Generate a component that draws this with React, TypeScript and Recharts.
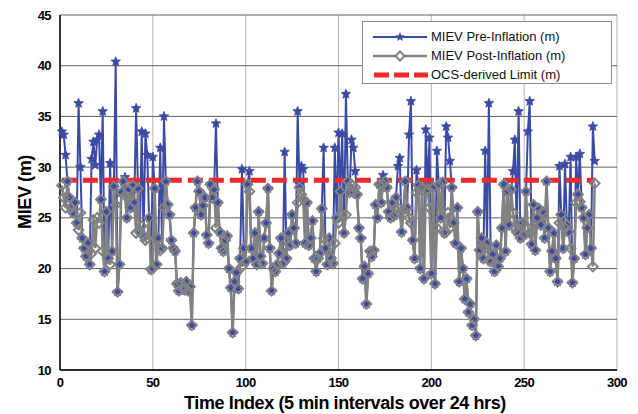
import { LineChart, Line, XAxis, YAxis, CartesianGrid } from "recharts";

// time index 1..288 (5 min steps over 24 h)
const timeIndex = Array.from({ length: 288 }, (_, i) => i + 1);

const preInflation = [
  33.5, 33.2, 31.2, 28.6, 27.0, 26.0, 25.5, 26.5, 24.5, 36.3,
  30.0, 23.0, 22.0, 21.2, 22.5, 20.4, 30.8, 32.5, 30.2, 32.7,
  33.2, 26.8, 35.5, 19.7, 25.6, 21.0, 30.4, 21.7, 28.1, 40.4,
  17.7, 20.4, 27.5, 28.6, 29.0, 25.0, 27.8, 26.0, 28.2, 26.5,
  35.8, 27.9, 23.6, 33.5, 23.2, 33.3, 31.2, 25.0, 19.9, 31.0,
  27.9, 20.4, 23.0, 31.9, 22.0, 35.0, 28.6, 26.3, 25.3, 22.8,
  22.0, 21.7, 18.5, 17.8, 18.6, 18.0, 17.9, 18.7, 17.8, 18.2,
  14.4, 23.5, 26.0, 28.6, 27.6, 25.3, 26.2, 27.0, 23.3, 22.5,
  28.3, 27.0, 27.8, 34.3, 26.5, 23.6, 22.0, 21.7, 22.8, 23.2,
  20.0, 18.1, 13.7, 18.7, 19.6, 18.0, 21.0, 29.8, 22.0, 20.7,
  28.3, 29.6, 22.0, 21.0, 23.5, 20.4, 25.6, 21.2, 20.5, 23.0,
  24.5, 27.9, 22.0, 17.8, 20.0, 19.7, 20.4, 21.5, 23.0, 20.5,
  31.5, 21.0, 23.5, 22.3, 25.3, 24.0, 22.5, 35.5, 28.3, 30.1,
  29.8, 22.5, 26.5, 22.3, 23.0, 24.7, 21.0, 19.7, 21.0, 21.5,
  25.9, 31.9, 22.0, 20.4, 23.0, 21.0, 20.5, 31.9, 25.0, 33.4,
  27.6, 33.3, 23.5, 37.2, 28.6, 27.5, 32.7, 31.9, 29.6, 27.3,
  24.0, 23.0, 19.0, 20.2, 16.5, 19.5, 21.7, 21.2, 21.8, 26.3,
  25.0, 28.3, 26.5, 29.2, 28.6, 28.0, 25.6, 25.0, 26.5, 25.2,
  27.0, 30.1, 30.9, 23.6, 25.8, 28.6, 26.0, 33.2, 36.5, 22.8,
  21.0, 29.7, 28.2, 20.0, 28.0, 19.0, 33.7, 27.8, 32.9, 19.5,
  28.0, 18.5, 31.6, 28.3, 25.0, 28.5, 23.5, 34.0, 32.9, 30.6,
  28.0, 24.5, 22.5, 26.0, 18.7, 22.0, 20.0, 17.0, 19.0, 15.7,
  16.5, 14.4, 15.0, 13.4, 25.6, 21.8, 23.0, 21.0, 31.6, 22.5,
  36.3, 20.7, 21.4, 19.7, 22.3, 20.2, 21.0, 24.0, 28.3, 21.7,
  27.6, 24.3, 27.8, 29.6, 32.7, 23.6, 35.5, 23.0, 24.5, 23.3,
  27.6, 33.5, 36.5, 22.4, 26.3, 21.8, 25.0, 25.9, 24.3, 25.6,
  23.0, 28.6, 24.0, 19.7, 21.7, 23.5, 21.0, 18.7, 30.1, 25.3,
  22.0, 30.3, 24.3, 23.6, 31.0, 18.6, 21.0, 31.0, 27.3, 31.3,
  26.0, 25.0, 21.4, 24.0, 25.3, 22.0, 34.0, 30.6,
];

const postInflation = [
  28.2, 27.0, 26.0, 28.6, 27.0, 26.0, 25.5, 26.5, 24.5, 23.8,
  25.5, 23.0, 22.0, 21.2, 22.5, 20.4, 21.5, 24.8, 22.0, 25.0,
  24.5, 26.8, 21.7, 19.7, 25.6, 21.0, 20.4, 21.7, 28.1, 26.3,
  17.7, 20.4, 27.5, 28.6, 27.2, 25.0, 27.8, 26.0, 28.2, 26.5,
  23.5, 27.9, 23.6, 24.2, 23.2, 22.8, 23.0, 25.0, 19.9, 20.0,
  27.9, 20.4, 23.0, 21.8, 22.0, 26.0, 28.6, 26.3, 25.3, 22.8,
  22.0, 21.7, 18.5, 17.8, 18.6, 18.0, 17.9, 18.7, 17.8, 18.2,
  14.4, 23.5, 26.0, 28.6, 27.6, 25.3, 26.2, 27.0, 23.3, 22.5,
  28.3, 27.0, 27.8, 24.0, 26.5, 23.6, 22.0, 21.7, 22.8, 23.2,
  20.0, 18.1, 13.7, 18.7, 19.6, 18.0, 21.0, 20.2, 22.0, 20.7,
  28.3, 27.6, 22.0, 21.0, 23.5, 20.4, 25.6, 21.2, 20.5, 23.0,
  24.5, 27.9, 22.0, 17.8, 20.0, 19.7, 20.4, 21.5, 23.0, 20.5,
  22.0, 21.0, 23.5, 22.3, 25.3, 24.0, 22.5, 26.5, 28.0, 27.3,
  26.8, 22.5, 26.5, 22.3, 23.0, 24.7, 21.0, 19.7, 21.0, 21.5,
  25.9, 23.0, 22.0, 20.4, 23.0, 21.0, 20.5, 22.5, 25.0, 24.5,
  27.6, 25.3, 23.5, 25.3, 28.6, 27.5, 28.3, 27.5, 28.0, 27.3,
  24.0, 23.0, 19.0, 20.2, 16.5, 19.5, 21.7, 21.2, 21.8, 26.3,
  25.0, 28.3, 26.5, 28.3, 28.6, 28.0, 25.6, 25.0, 26.5, 25.2,
  27.0, 26.0, 25.5, 23.6, 25.8, 28.6, 26.0, 25.0, 24.5, 22.8,
  21.0, 27.5, 28.2, 20.0, 28.0, 19.0, 27.6, 27.8, 26.0, 19.5,
  28.0, 18.5, 24.0, 28.3, 25.0, 28.5, 23.5, 23.6, 25.5, 24.0,
  28.0, 24.5, 22.5, 26.0, 18.7, 22.0, 20.0, 17.0, 19.0, 15.7,
  16.5, 14.4, 15.0, 13.4, 25.6, 21.8, 23.0, 21.0, 22.0, 22.5,
  20.8, 20.7, 21.4, 19.7, 22.3, 20.2, 21.0, 24.0, 28.3, 21.7,
  27.6, 24.3, 27.8, 25.5, 24.0, 23.6, 24.5, 23.0, 24.5, 23.3,
  27.6, 24.0, 23.5, 22.4, 26.3, 21.8, 25.0, 25.9, 24.3, 25.6,
  23.0, 28.6, 24.0, 19.7, 21.7, 23.5, 21.0, 18.7, 24.5, 25.3,
  22.0, 24.0, 24.3, 23.6, 22.0, 18.6, 21.0, 26.5, 27.3, 26.6,
  26.0, 25.0, 21.4, 24.0, 25.3, 22.0, 20.2, 28.4,
];

const ocsLimit = 28.7;

const xTicks = [0, 50, 100, 150, 200, 250, 300];
const yTicks = [10, 15, 20, 25, 30, 35, 40, 45];

const BLUE = "#3b4aa3";
const GREY = "#828282";
const RED = "#ee2b2b";

const data = timeIndex.map((t, i) => ({
  t,
  pre: preInflation[i],
  post: postInflation[i],
  limit: ocsLimit,
}));

function starPath(cx: number, cy: number, R: number, r: number) {
  let d = "";
  for (let k = 0; k < 10; k++) {
    const rad = k % 2 === 0 ? R : r;
    const a = -Math.PI / 2 + (k * Math.PI) / 5;
    d += (k === 0 ? "M" : "L") + (cx + rad * Math.cos(a)).toFixed(2) + "," + (cy + rad * Math.sin(a)).toFixed(2);
  }
  return d + "Z";
}

const StarDot = (p: any) => (
  <path key={"s" + p.index} d={starPath(p.cx, p.cy, 5, 2.2)} fill={BLUE} stroke={BLUE} strokeWidth={0.8} />
);

const DiamondDot = (p: any) => (
  <path
    key={"d" + p.index}
    d={`M${p.cx},${p.cy - 4.8}L${p.cx + 4.8},${p.cy}L${p.cx},${p.cy + 4.8}L${p.cx - 4.8},${p.cy}Z`}
    fill="none"
    stroke={GREY}
    strokeWidth={2}
  />
);

const tickStyle = { fontFamily: "Liberation Sans, Arial", fontSize: 13, fontWeight: 700, fill: "#000", letterSpacing: -0.6 };
const labelFont = "Liberation Sans, Arial";

function LegendBox() {
  const row = { display: "flex", alignItems: "center", height: 19 } as const;
  const txt = { fontFamily: labelFont, fontSize: 13, color: "#111", marginLeft: 0, whiteSpace: "nowrap" } as const;
  return (
    <div
      style={{
        position: "absolute",
        left: 362,
        top: 21,
        width: 250,
        height: 63,
        background: "#fff",
        border: "1px solid #8c8c8c",
        boxSizing: "border-box",
        paddingTop: 5,
      }}
    >
      <div style={row}>
        <svg width={66} height={14} style={{ marginLeft: 2 }}>
          <line x1={8} y1={7} x2={62} y2={7} stroke={BLUE} strokeWidth={2} />
          <path d={starPath(35, 7, 5, 2.2)} fill={BLUE} />
        </svg>
        <span style={txt}>MIEV Pre-Inflation (m)</span>
      </div>
      <div style={row}>
        <svg width={66} height={14} style={{ marginLeft: 2 }}>
          <line x1={8} y1={7} x2={62} y2={7} stroke={GREY} strokeWidth={2.5} />
          <path d="M35,2.5L39.5,7L35,11.5L30.5,7Z" fill="#fff" stroke={GREY} strokeWidth={2} />
        </svg>
        <span style={txt}>MIEV Post-Inflation (m)</span>
      </div>
      <div style={row}>
        <svg width={66} height={14} style={{ marginLeft: 2 }}>
          <line x1={9} y1={7} x2={63} y2={7} stroke={RED} strokeWidth={5} strokeDasharray="15 5" />
        </svg>
        <span style={txt}>OCS-derived Limit (m)</span>
      </div>
    </div>
  );
}

export default function App() {
  return (
    <div style={{ position: "absolute", left: 0, top: 0, width: 638, height: 414, background: "#fff" }}>
      <LineChart width={638} height={414} data={data} margin={{ top: 15, right: 21, bottom: 14, left: 10 }}>
        <CartesianGrid horizontal={false} stroke="#b5b5b5" strokeWidth={1} />
        <CartesianGrid vertical={false} stroke="#606060" strokeWidth={1} />
        <XAxis
          dataKey="t"
          type="number"
          domain={[0, 300]}
          ticks={xTicks}
          height={30}
          tickLine={false}
          axisLine={{ stroke: "#000", strokeWidth: 1.5 }}
          tick={tickStyle}
          tickMargin={2}
          interval={0}
        />
        <YAxis
          type="number"
          domain={[10, 45]}
          ticks={yTicks}
          width={50}
          tickLine={false}
          axisLine={{ stroke: "#000", strokeWidth: 1.5 }}
          tick={tickStyle}
          tickMargin={3}
          interval={0}
        />
        <Line dataKey="pre" stroke={BLUE} strokeWidth={2} dot={StarDot} isAnimationActive={false} />
        <Line dataKey="post" stroke={GREY} strokeWidth={2.5} dot={DiamondDot} isAnimationActive={false} />
        <Line dataKey="limit" stroke={RED} strokeWidth={5} strokeDasharray="15 6" dot={false} isAnimationActive={false} />
      </LineChart>
      <LegendBox />
      <div
        style={{
          position: "absolute",
          left: 345,
          top: 403,
          transform: "translate(-50%, -50%)",
          fontFamily: labelFont,
          fontWeight: 700,
          fontSize: 18,
          letterSpacing: -0.4,
          whiteSpace: "nowrap",
        }}
      >
        Time Index (5 min intervals over 24 hrs)
      </div>
      <div
        style={{
          position: "absolute",
          left: 25,
          top: 192,
          transform: "translate(-50%, -50%) rotate(-90deg)",
          fontFamily: labelFont,
          fontWeight: 700,
          fontSize: 18,
          letterSpacing: -0.4,
          whiteSpace: "nowrap",
        }}
      >
        MIEV (m)
      </div>
    </div>
  );
}
